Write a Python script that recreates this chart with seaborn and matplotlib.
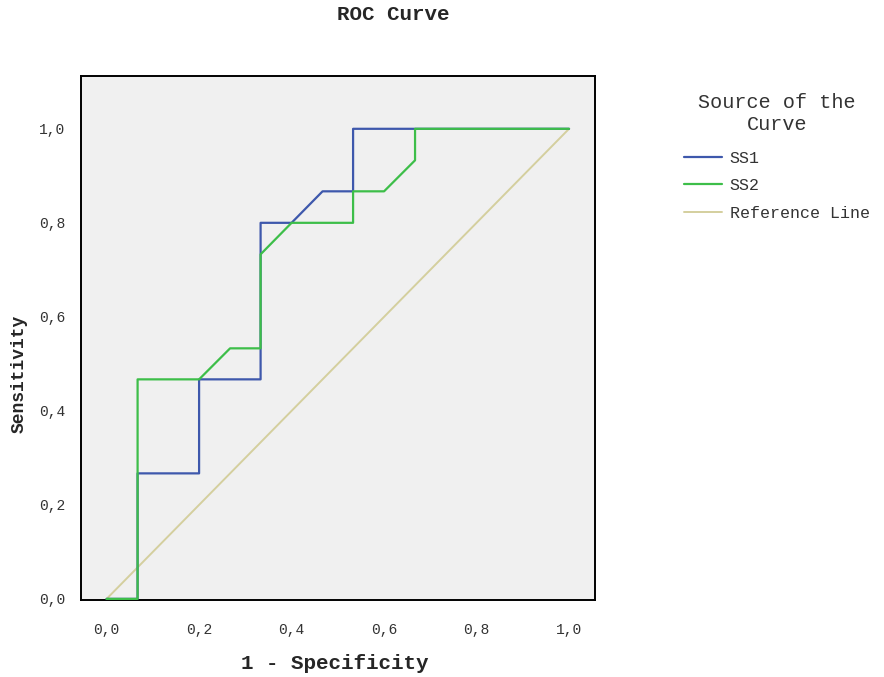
import matplotlib
matplotlib.use("Agg")
import matplotlib.pyplot as plt
import numpy as np
import pandas as pd
import seaborn as sns

# ---- data ----
ss1_fpr = [0.000, 0.067, 0.067, 0.200, 0.200, 0.333, 0.333, 0.400, 0.467, 0.533, 0.533, 1.000]
ss1_tpr = [0.000, 0.000, 0.267, 0.267, 0.467, 0.467, 0.800, 0.800, 0.867, 0.867, 1.000, 1.000]

ss2_fpr = [0.000, 0.067, 0.067, 0.200, 0.267, 0.333, 0.333, 0.400, 0.533, 0.533, 0.600, 0.667, 0.667, 1.000]
ss2_tpr = [0.000, 0.000, 0.467, 0.467, 0.533, 0.533, 0.733, 0.800, 0.800, 0.867, 0.867, 0.933, 1.000, 1.000]

ref_fpr = [0.0, 1.0]
ref_tpr = [0.0, 1.0]

series_names = ["SS1", "SS2", "Reference Line"]
tick_values = [0.0, 0.2, 0.4, 0.6, 0.8, 1.0]
tick_labels = ["0,0", "0,2", "0,4", "0,6", "0,8", "1,0"]

colors = {"SS1": "#3E58AC", "SS2": "#3DBE49", "Reference Line": "#D4CF9E"}

df = pd.concat([
    pd.DataFrame({"fpr": ref_fpr, "tpr": ref_tpr, "source": "Reference Line"}),
    pd.DataFrame({"fpr": ss1_fpr, "tpr": ss1_tpr, "source": "SS1"}),
    pd.DataFrame({"fpr": ss2_fpr, "tpr": ss2_tpr, "source": "SS2"}),
], ignore_index=True)

sns.set_style("white")
plt.rcParams["font.family"] = ["Liberation Mono", "DejaVu Sans Mono", "DejaVu Sans"]

fig = plt.figure(figsize=(8.84, 6.77), dpi=100)
ax = fig.add_axes([0.0913, 0.1133, 0.5817, 0.7749])
ax.set_facecolor("#F0F0F0")

widths = {"SS1": 1.6, "SS2": 1.6, "Reference Line": 1.4}
zorders = {"Reference Line": 3, "SS1": 4, "SS2": 5}
for name in ["Reference Line", "SS1", "SS2"]:
    sns.lineplot(data=df[df["source"] == name], x="fpr", y="tpr", sort=False,
                 estimator=None, color=colors[name], linewidth=widths[name],
                 ax=ax, label=name, legend=False, zorder=zorders[name])
for l in ax.get_lines():
    l.set_clip_on(False)

ax.set_xlim(-0.056, 1.056)
ax.set_ylim(-0.003, 1.113)
ax.set_xticks(tick_values)
ax.set_xticklabels(tick_labels)
ax.set_yticks(tick_values)
ax.set_yticklabels(tick_labels)
ax.tick_params(axis="both", direction="out", length=8, width=1.4, color="black",
               labelsize=10.5, labelcolor="#333333")
ax.tick_params(axis="x", pad=8)
ax.tick_params(axis="y", pad=3)
for s in ax.spines.values():
    s.set_visible(True)
    s.set_color("black")
    s.set_linewidth(1.4)
    s.set_zorder(2.5)

ax.set_xlabel("1 - Specificity", fontsize=15, fontweight="bold")
ax.set_ylabel("Sensitivity", fontsize=13, fontweight="bold")
ax.xaxis.set_label_coords(0.495, -0.103)
ax.yaxis.set_label_coords(-0.104, 0.432)

fig.suptitle("ROC Curve", x=0.445, y=0.992, va="top", fontsize=15, fontweight="bold")

lines = {l.get_label(): l for l in ax.get_lines()}
handles = [lines[n] for n in series_names]
leg = fig.legend(handles, series_names, loc="upper left",
                 bbox_to_anchor=(684 / 884, 1 - 93 / 677), frameon=False,
                 title="Source of the\nCurve", fontsize=12, title_fontsize=14.5,
                 handlelength=2.3, handletextpad=0.45, labelspacing=0.75,
                 borderpad=0, borderaxespad=0)
leg._legend_box.sep = 12
for t in leg.get_texts():
    t.set_color("#333333")
leg.get_title().set_color("#333333")
leg.get_title().set_multialignment("center")

fig.savefig("out.png", dpi=100)
